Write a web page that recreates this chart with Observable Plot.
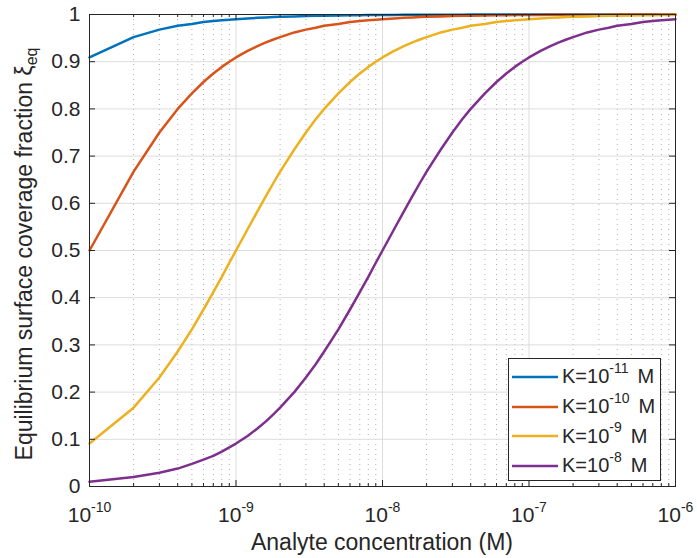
<!DOCTYPE html>
<html><head><meta charset="utf-8">
<script src="https://cdn.jsdelivr.net/npm/d3@7"></script>
<script src="https://cdn.jsdelivr.net/npm/@observablehq/plot@0.6"></script>
<style>
body{margin:0;background:#fff;}
#wrap{position:relative;width:697px;height:558px;font-family:"Liberation Sans",Arial,Helvetica,sans-serif;color:#262626;}
#legend{position:absolute;left:508px;top:358px;width:153px;height:123px;border:1px solid #262626;background:#fff;box-sizing:border-box;padding-top:3px;}
.lrow{display:flex;align-items:center;height:29.7px;font-size:20px;white-space:nowrap;}
.lrow svg{margin-left:3px;margin-right:4px;}
.sup{font-size:14px;position:relative;top:-9px;}
.unit{margin-left:9px;}
</style></head><body><div id="wrap"></div>
<script>
// Analyte concentration (M)
const concentrations = [
  1e-10,2e-10,3e-10,4e-10,5e-10,6e-10,7e-10,8e-10,9e-10,
  1e-9,1.2e-9,1.4e-9,1.6e-9,1.8e-9,2e-9,2.5e-9,3e-9,3.5e-9,4e-9,5e-9,6e-9,7e-9,8e-9,9e-9,
  1e-8,1.2e-8,1.4e-8,1.6e-8,1.8e-8,2e-8,2.5e-8,3e-8,3.5e-8,4e-8,5e-8,6e-8,7e-8,8e-8,9e-8,
  1e-7,1.2e-7,1.4e-7,1.6e-7,1.8e-7,2e-7,2.5e-7,3e-7,3.5e-7,4e-7,5e-7,6e-7,7e-7,8e-7,9e-7,
  1e-6];
// Equilibrium surface coverage fraction
const xiK11 = [
  0.909,0.952,0.968,0.976,0.980,0.984,0.986,0.988,0.989,
  0.990,0.9917,0.9929,0.9938,0.9945,0.995,0.996,0.9967,0.9972,0.9975,0.998,0.9983,0.9986,0.9988,0.9989,
  0.999,0.9992,0.9993,0.9994,0.9994,0.9995,0.9996,0.9997,0.9997,0.9998,0.9998,0.9998,0.9999,0.9999,0.9999,
  0.9999,1,1,1,1,1,1,1,1,1,1,1,1,1,1,
  1];
const xiK10 = [
  0.5,0.667,0.75,0.8,0.833,0.857,0.875,0.889,0.9,
  0.909,0.923,0.933,0.941,0.947,0.952,0.962,0.968,0.972,0.976,0.980,0.984,0.986,0.988,0.989,
  0.990,0.9917,0.9929,0.9938,0.9945,0.995,0.996,0.9967,0.9972,0.9975,0.998,0.9983,0.9986,0.9988,0.9989,
  0.999,0.9992,0.9993,0.9994,0.9994,0.9995,0.9996,0.9997,0.9997,0.9998,0.9998,0.9998,0.9999,0.9999,0.9999,
  0.9999];
const xiK9 = [
  0.091,0.167,0.231,0.286,0.333,0.375,0.412,0.444,0.474,
  0.5,0.545,0.583,0.615,0.643,0.667,0.714,0.75,0.778,0.8,0.833,0.857,0.875,0.889,0.9,
  0.909,0.923,0.933,0.941,0.947,0.952,0.962,0.968,0.972,0.976,0.980,0.984,0.986,0.988,0.989,
  0.990,0.9917,0.9929,0.9938,0.9945,0.995,0.996,0.9967,0.9972,0.9975,0.998,0.9983,0.9986,0.9988,0.9989,
  0.999];
const xiK8 = [
  0.010,0.020,0.029,0.038,0.048,0.057,0.065,0.074,0.083,
  0.091,0.107,0.123,0.138,0.153,0.167,0.2,0.231,0.259,0.286,0.333,0.375,0.412,0.444,0.474,
  0.5,0.545,0.583,0.615,0.643,0.667,0.714,0.75,0.778,0.8,0.833,0.857,0.875,0.889,0.9,
  0.909,0.923,0.933,0.941,0.947,0.952,0.962,0.968,0.972,0.976,0.980,0.984,0.986,0.988,0.989,
  0.990];
const seriesExponents = ["-11","-10","-9","-8"];
const seriesColors = ["#0072BD","#D95319","#EDB120","#7E2F8E"];
const xTickExponents = ["-10","-9","-8","-7","-6"];
const xMajorTicks = [1e-10,1e-9,1e-8,1e-7,1e-6];
const yTicks = [0,0.1,0.2,0.3,0.4,0.5,0.6,0.7,0.8,0.9,1];
const yTickLabels = ["0","0.1","0.2","0.3","0.4","0.5","0.6","0.7","0.8","0.9","1"];
const xLabel = "Analyte concentration (M)";
const yLabelMain = "Equilibrium surface coverage fraction \u03BE";
const yLabelSub = "eq";

const series = [xiK11, xiK10, xiK9, xiK8];
const rows = [];
series.forEach((vals, k) => concentrations.forEach((c, i) => rows.push({c, xi: vals[i], k})));
const minorTicks = xMajorTicks.slice(0, -1).flatMap(m => [2,3,4,5,6,7,8,9].map(d => d * m));

const W = 697, H = 558, mL = 89, mR = 22, mT = 14, mB = 72;
const plotW = W - mL - mR, plotH = H - mT - mB;
const ink = "#262626";

const chart = Plot.plot({
  width: W, height: H, marginLeft: mL, marginRight: mR, marginTop: mT, marginBottom: mB,
  style: {fontFamily: '"Liberation Sans", Arial, Helvetica, sans-serif', fontSize: "21px", color: ink, background: "white", overflow: "visible"},
  x: {type: "log", domain: [1e-10, 1e-6]},
  y: {domain: [0, 1]},
  color: {type: "ordinal", domain: [0,1,2,3], range: seriesColors},
  marks: [
    Plot.gridX(minorTicks, {stroke: "#b0b0b0", strokeOpacity: 1, strokeDasharray: "1,4"}),
    Plot.gridX(xMajorTicks, {stroke: "#dcdcdc", strokeOpacity: 1}),
    Plot.gridY(yTicks, {stroke: "#dcdcdc", strokeOpacity: 1}),
    Plot.line(rows, {x: "c", y: "xi", z: "k", stroke: "k", strokeWidth: 2.5}),
    Plot.frame({stroke: ink}),
    Plot.tickX(xMajorTicks, {x: d => d, insetTop: plotH - 6, stroke: ink}),
    Plot.tickX(xMajorTicks, {x: d => d, insetBottom: plotH - 6, stroke: ink}),
    Plot.tickX(minorTicks, {x: d => d, insetTop: plotH - 3, stroke: ink}),
    Plot.tickX(minorTicks, {x: d => d, insetBottom: plotH - 3, stroke: ink}),
    Plot.tickY(yTicks, {y: d => d, insetRight: plotW - 6, stroke: ink}),
    Plot.tickY(yTicks, {y: d => d, insetLeft: plotW - 6, stroke: ink}),
    Plot.axisX(xMajorTicks, {tickSize: 0, tickPadding: 21, label: null,
      tickFormat: d => "10^" + xTickExponents[xMajorTicks.indexOf(d)]}),
    Plot.axisY(yTicks, {tickSize: 0, tickPadding: 9, label: null,
      tickFormat: d => yTickLabels[yTicks.indexOf(d)]})
  ]
});

const svg = d3.select(chart);
svg.selectAll('g[aria-label="x-axis tick label"] text').each(function() {
  const t = d3.select(this);
  const [base, exp] = t.text().split("^");
  t.text("");
  t.append("tspan").text(base);
  t.append("tspan").attr("font-size", 14).attr("dy", -10).text(exp);
});
svg.append("text")
  .attr("x", mL + plotW / 2).attr("y", H - 8)
  .attr("text-anchor", "middle").attr("font-size", 23).attr("fill", ink)
  .text(xLabel);
const yl = svg.append("text")
  .attr("transform", `translate(32,${mT + plotH / 2 + 4}) rotate(-90)`)
  .attr("text-anchor", "middle").attr("font-size", 23).attr("fill", ink);
yl.append("tspan").text(yLabelMain);
yl.append("tspan").attr("font-size", 16).attr("dy", 5).text(yLabelSub);

const wrap = document.getElementById("wrap");
wrap.appendChild(chart);

const legend = document.createElement("div");
legend.id = "legend";
seriesExponents.forEach((e, i) => {
  const row = document.createElement("div");
  row.className = "lrow";
  row.innerHTML = `<svg width="46" height="6"><line x1="0" x2="46" y1="3" y2="3" stroke="${seriesColors[i]}" stroke-width="2.5"/></svg><span>K=10</span><span class="sup">${e}</span><span class="unit">M</span>`;
  legend.appendChild(row);
});
wrap.appendChild(legend);
</script></body></html>
